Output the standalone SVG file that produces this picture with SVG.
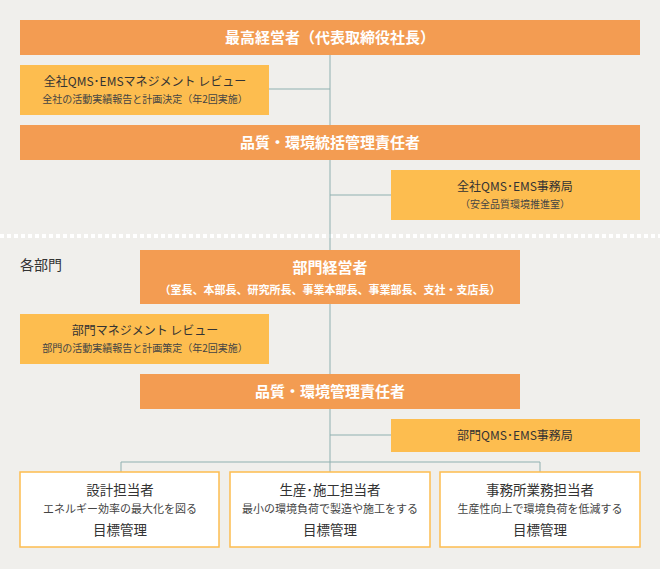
<svg xmlns="http://www.w3.org/2000/svg" width="660" height="569" viewBox="0 0 660 569">
<style>
text{font-family:"Noto Sans CJK JP","Noto Sans",sans-serif;text-anchor:middle}
.o{fill:#F39C52}.y{fill:#FDBD4F}.w{fill:#fff;stroke:#FDBD4F;stroke-width:1.5}
.t1{fill:#fff;font-size:15px;font-weight:bold}
.t2{fill:#fff;font-size:11px;font-weight:bold}
.d1{fill:#333;font-size:12px}.d2{fill:#444;font-size:10px}
.b1{fill:#333;font-size:13.5px}.b2{fill:#444;font-size:11px}
.l{stroke:#8FB0B0;stroke-width:1;fill:none}
</style>
<rect width="660" height="569" fill="#F0EFEC"/>
<line x1="0" y1="236" x2="660" y2="236" stroke="#fff" stroke-width="4" stroke-dasharray="4,3"/>
<text x="20" y="270" style="text-anchor:start;font-size:14px;fill:#333">各部門</text>
<g id="connectors" class="l">
<path d="M330 55V462M269 89H330M330 195H391M330 435H391M121 472V462H540V472M330 462V472"/>
</g>
<g id="top"><rect class="o" x="20" y="20" width="620" height="35"/><text class="t1" x="330" y="43">最高経営者（代表取締役社長）</text></g>
<g id="review"><rect class="y" x="20" y="65" width="249" height="50"/><text class="d1" x="145" y="86">全社QMS･EMSマネジメント レビュー</text><text class="d2" x="145" y="103">全社の活動実績報告と計画決定（年2回実施）</text></g>
<g id="qe"><rect class="o" x="20" y="125" width="620" height="35"/><text class="t1" x="330" y="148">品質・環境統括管理責任者</text></g>
<g id="office"><rect class="y" x="391" y="170" width="249" height="50"/><text class="d1" x="515" y="191">全社QMS･EMS事務局</text><text class="d2" x="515" y="208">（安全品質環境推進室）</text></g>
<g id="dept"><rect class="o" x="140" y="250" width="380" height="54"/><text class="t1" x="330" y="273">部門経営者</text><text class="t2" x="330" y="294">（室長、本部長、研究所長、事業本部長、事業部長、支社・支店長）</text></g>
<g id="dreview"><rect class="y" x="20" y="314" width="249" height="50"/><text class="d1" x="145" y="335">部門マネジメント レビュー</text><text class="d2" x="145" y="352">部門の活動実績報告と計画策定（年2回実施）</text></g>
<g id="dqe"><rect class="o" x="140" y="374" width="380" height="35"/><text class="t1" x="330" y="397">品質・環境管理責任者</text></g>
<g id="doffice"><rect class="y" x="391" y="419" width="249" height="33"/><text class="d1" x="515" y="440">部門QMS･EMS事務局</text></g>
<g id="b1"><rect class="w" x="20" y="472" width="199" height="75"/><text class="b1" x="120" y="495">設計担当者</text><text class="b2" x="120" y="513">エネルギー効率の最大化を図る</text><text class="b1" x="120" y="535">目標管理</text></g>
<g id="b2"><rect class="w" x="230" y="472" width="200" height="75"/><text class="b1" x="330" y="495">生産･施工担当者</text><text class="b2" x="330" y="513">最小の環境負荷で製造や施工をする</text><text class="b1" x="330" y="535">目標管理</text></g>
<g id="b3"><rect class="w" x="440" y="472" width="200" height="75"/><text class="b1" x="540" y="495">事務所業務担当者</text><text class="b2" x="540" y="513">生産性向上で環境負荷を低減する</text><text class="b1" x="540" y="535">目標管理</text></g>
</svg>
